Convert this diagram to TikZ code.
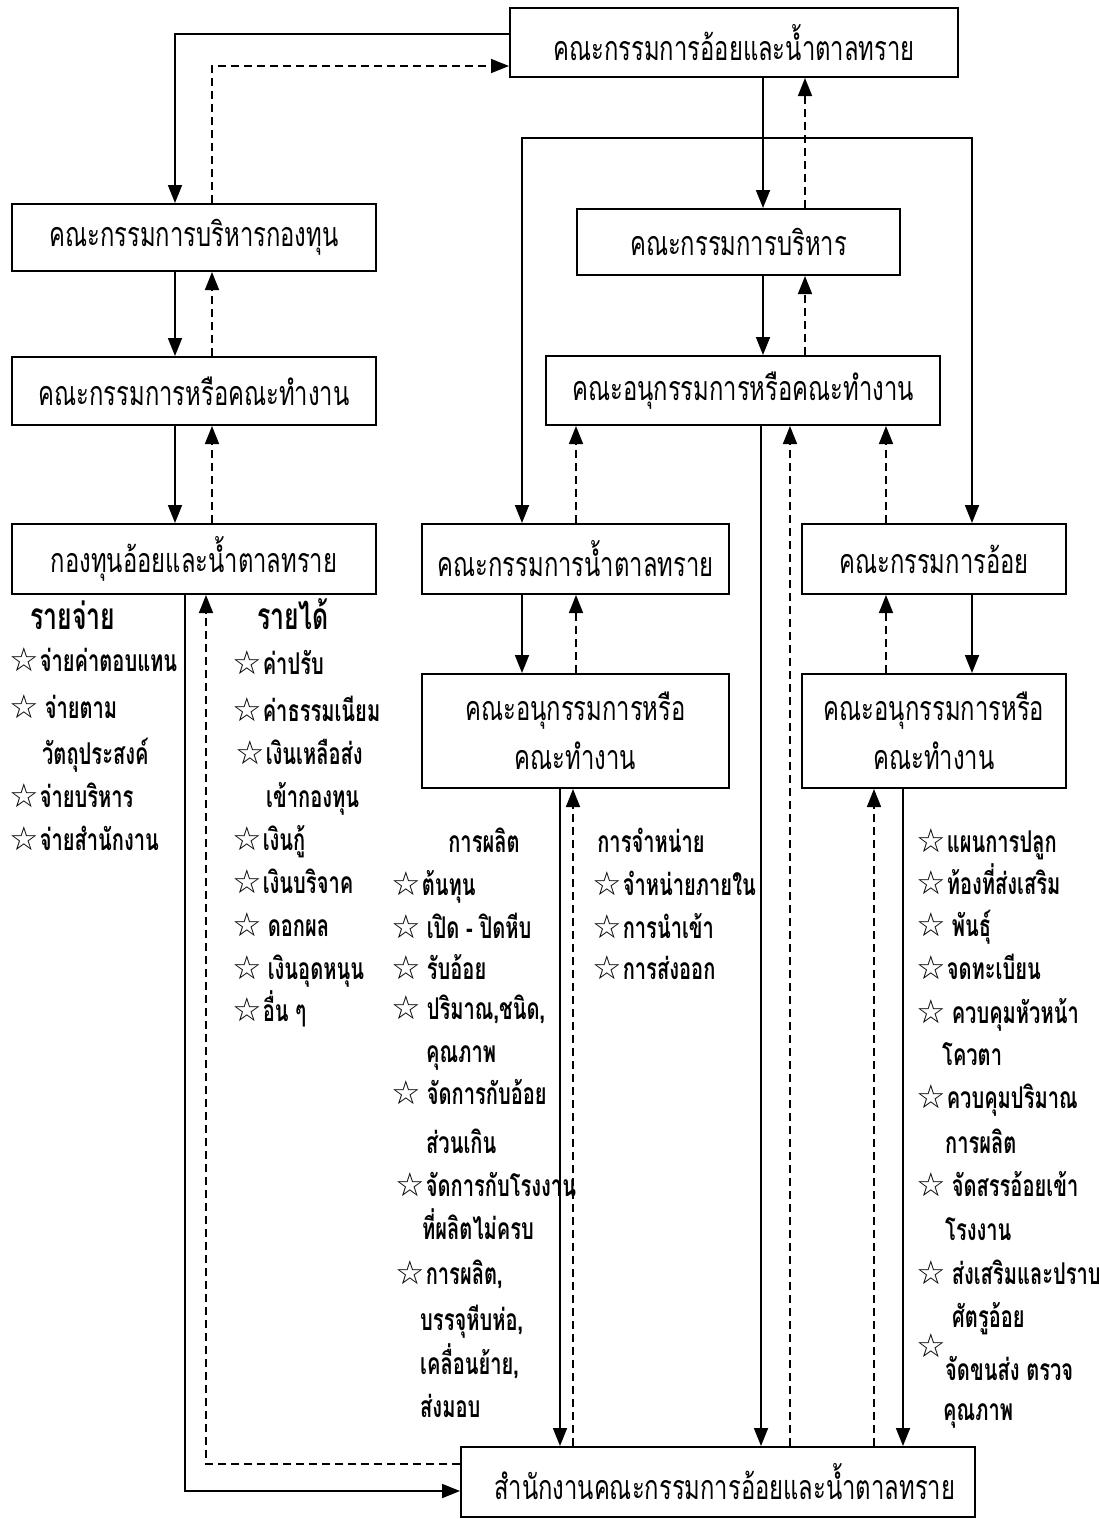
\documentclass[tikz,border=0pt]{standalone}
\usepackage{fontspec}
\usetikzlibrary{arrows.meta}
\newfontfamily\thaibox[Script=Thai,FakeStretch=0.70]{Loma}
\newfontfamily\thailist[Script=Thai,FakeStretch=0.67]{Loma}
\newfontfamily\starfont{DejaVu Sans}
\newcommand{\st}{{\starfont\fontsize{33}{33}\selectfont ☆}\hspace{1pt}}
\newcommand{\sts}{{\starfont\fontsize{33}{33}\selectfont ☆}\hspace{6pt}}
\tikzset{
  box/.style={draw, line width=2pt, inner sep=0pt, font=\thaibox\fontsize{34}{49}\selectfont, align=center},
  tip/.style={-{Triangle[length=18pt,width=14pt]}},
  sol/.style={line width=1.8pt, tip},
  dsh/.style={line width=1.6pt, dash pattern=on 8pt off 5pt, tip},
  both/.style={line width=1.8pt, {Triangle[length=18pt,width=14pt]}-{Triangle[length=18pt,width=14pt]}},
  it/.style={anchor=west, inner sep=0pt, text height=15pt, text depth=0pt, font=\thailist\bfseries\fontsize{30}{30}\selectfont},
  hd/.style={anchor=center, inner sep=0pt, text height=15pt, text depth=0pt, font=\thailist\bfseries\fontsize{30}{30}\selectfont},
  hdb/.style={anchor=center, inner sep=0pt, text height=18pt, text depth=0pt, font=\thailist\bfseries\fontsize{37}{37}\selectfont}
}
\begin{document}
\begin{tikzpicture}[x=1pt,y=-1pt]
\useasboundingbox (0,0) rectangle (1099,1519);
% boxes
\node[box, minimum width=448pt, minimum height=69pt] (T) at (734,42.5) {คณะกรรมการอ้อยและน้ำตาลทราย};
\node[box, minimum width=364pt, minimum height=67pt] (BL) at (194,237.5) {คณะกรรมการบริหารกองทุน};
\node[box, minimum width=323pt, minimum height=66pt] (BR) at (738.5,242) {คณะกรรมการบริหาร};
\node[box, minimum width=364pt, minimum height=68pt] (CL) at (194,391) {คณะกรรมการหรือคณะทำงาน};
\node[box, minimum width=394pt, minimum height=69pt] (CM) at (743,390.5) {คณะอนุกรรมการหรือคณะทำงาน};
\node[box, minimum width=364pt, minimum height=70pt] (DL) at (194,559) {กองทุนอ้อยและน้ำตาลทราย};
\node[box, minimum width=307pt, minimum height=70pt] (DM) at (575.5,559) {คณะกรรมการน้ำตาลทราย};
\node[box, minimum width=264pt, minimum height=70pt] (DR) at (934,559) {คณะกรรมการอ้อย};
\node[box, minimum width=307pt, minimum height=114pt] (EL) at (575.5,731) {คณะอนุกรรมการหรือ\\คณะทำงาน};
\node[box, minimum width=264pt, minimum height=114pt] (ER) at (934,731) {คณะอนุกรรมการหรือ\\คณะทำงาน};
\node[box, minimum width=514pt, minimum height=70pt] (G) at (718,1482) {};
\node[anchor=west, inner sep=0pt, font=\thaibox\fontsize{34}{49}\selectfont] (Gt) at (494,1482) {สำนักงานคณะกรรมการอ้อยและน้ำตาลทราย};
% column coordinates
\coordinate (cA) at (175,0);
\coordinate (cAd) at (212,0);
\coordinate (cB) at (763,0);
\coordinate (cBd) at (805,0);
\coordinate (cF1) at (522,0);
\coordinate (cF2) at (972,0);
\coordinate (cM) at (761,0);
\coordinate (cMd) at (790,0);
\coordinate (cN) at (576,0);
\coordinate (cO) at (886,0);
\coordinate (cE1) at (560,0);
\coordinate (cE1d) at (573,0);
\coordinate (cE2) at (903,0);
\coordinate (cE2d) at (874,0);
\coordinate (cG) at (185,0);
\coordinate (cGd) at (206,0);
\coordinate (fr) at (747,138);
% connectors
\draw[sol] ([yshift=8.5pt]T.west) -| (BL.north -| cA);
\draw[dsh] (BL.north -| cAd) |- ([yshift=-23.5pt]T.west);
\draw[sol] (T.south -| cB) -- (BR.north -| cB);
\draw[dsh] (BR.north -| cBd) -- (T.south -| cBd);
\draw[both] (DM.north -| cF1) |- (fr) -| (DR.north -| cF2);
\draw[sol] (BL.south -| cA) -- (CL.north -| cA);
\draw[dsh] (CL.north -| cAd) -- (BL.south -| cAd);
\draw[sol] (CL.south -| cA) -- (DL.north -| cA);
\draw[dsh] (DL.north -| cAd) -- (CL.south -| cAd);
\draw[sol] (BR.south -| cB) -- (CM.north -| cB);
\draw[dsh] (CM.north -| cBd) -- (BR.south -| cBd);
\draw[sol] (CM.south -| cM) -- (G.north -| cM);
\draw[dsh] (G.north -| cMd) -- (CM.south -| cMd);
\draw[dsh] (DM.north -| cN) -- (CM.south -| cN);
\draw[dsh] (DR.north -| cO) -- (CM.south -| cO);
\draw[sol] (DM.south -| cF1) -- (EL.north -| cF1);
\draw[dsh] (EL.north -| cN) -- (DM.south -| cN);
\draw[sol] (DR.south -| cF2) -- (ER.north -| cF2);
\draw[dsh] (ER.north -| cO) -- (DR.south -| cO);
\draw[sol] (EL.south -| cE1) -- (G.north -| cE1);
\draw[dsh] (G.north -| cE1d) -- (EL.south -| cE1d);
\draw[sol] (ER.south -| cE2) -- (G.north -| cE2);
\draw[dsh] (G.north -| cE2d) -- (ER.south -| cE2d);
\draw[sol] (DL.south -| cG) |- ([yshift=-9pt]G.west);
\draw[dsh] ([yshift=18pt]G.west) -| (DL.south -| cGd);
% left list: expenses
\node[hdb] (h1) at (73,620) {รายจ่าย};
\node[it] (a1) at (9,664) {\st จ่ายค่าตอบแทน};
\node[it] (a2) at (9,711) {\sts จ่ายตาม};
\node[it] (a3) at (42,757) {วัตถุประสงค์};
\node[it] (a4) at (9,800) {\st จ่ายบริหาร};
\node[it] (a5) at (9,843) {\st จ่ายสำนักงาน};
% income
\node[hdb] (h2) at (293,620) {รายได้};
\node[it] (b1) at (232,667) {\st ค่าปรับ};
\node[it] (b2) at (232,714) {\st ค่าธรรมเนียม};
\node[it] (b3) at (235,757) {\st เงินเหลือส่ง};
\node[it] (b4) at (266,800) {เข้ากองทุน};
\node[it] (b5) at (232,843) {\st เงินกู้};
\node[it] (b6) at (232,886) {\st เงินบริจาค};
\node[it] (b7) at (232,929) {\sts ดอกผล};
\node[it] (b8) at (232,972) {\sts เงินอุดหนุน};
\node[it] (b9) at (232,1014) {\st อื่น ๆ};
% production
\node[hd] (h3) at (484,845) {การผลิต};
\node[it] (c1) at (391,888) {\st ต้นทุน};
\node[it] (c2) at (391,931) {\sts เปิด - ปิดหีบ};
\node[it] (c3) at (391,972) {\sts รับอ้อย};
\node[it] (c4) at (391,1012) {\sts ปริมาณ,ชนิด,};
\node[it] (c5) at (426,1055) {คุณภาพ};
\node[it] (c6) at (391,1097) {\sts จัดการกับอ้อย};
\node[it] (c7) at (426,1146) {ส่วนเกิน};
\node[it] (c8) at (395,1189) {\st จัดการกับโรงงาน};
\node[it] (c9) at (422,1232) {ที่ผลิตไม่ครบ};
\node[it] (c10) at (395,1277) {\st การผลิต,};
\node[it] (c11) at (420,1323) {บรรจุหีบห่อ,};
\node[it] (c12) at (420,1367) {เคลื่อนย้าย,};
\node[it] (c13) at (420,1410) {ส่งมอบ};
% distribution
\node[hd] (h4) at (651,845) {การจำหน่าย};
\node[it] (d1) at (592,888) {\st จำหน่ายภายใน};
\node[it] (d2) at (592,931) {\st การนำเข้า};
\node[it] (d3) at (592,972) {\st การส่งออก};
% cane list
\node[it] (e1) at (916,845) {\st แผนการปลูก};
\node[it] (e2) at (916,887) {\st ท้องที่ส่งเสริม};
\node[it] (e3) at (916,929) {\sts พันธุ์};
\node[it] (e4) at (916,972) {\st จดทะเบียน};
\node[it] (e5) at (916,1016) {\sts ควบคุมหัวหน้า};
\node[it] (e6) at (942,1058) {โควตา};
\node[it] (e7) at (916,1101) {\st ควบคุมปริมาณ};
\node[it] (e8) at (945,1146) {การผลิต};
\node[it] (e9) at (916,1189) {\sts จัดสรรอ้อยเข้า};
\node[it] (e10) at (945,1233) {โรงงาน};
\node[it] (e11) at (916,1277) {\sts ส่งเสริมและปราบ};
\node[it] (e12) at (952,1320) {ศัตรูอ้อย};
\node[it] (e13) at (916,1350) {\st};
\node[it] (e14) at (945,1373) {จัดขนส่ง ตรวจ};
\node[it] (e15) at (943,1413) {คุณภาพ};
\end{tikzpicture}
\end{document}
